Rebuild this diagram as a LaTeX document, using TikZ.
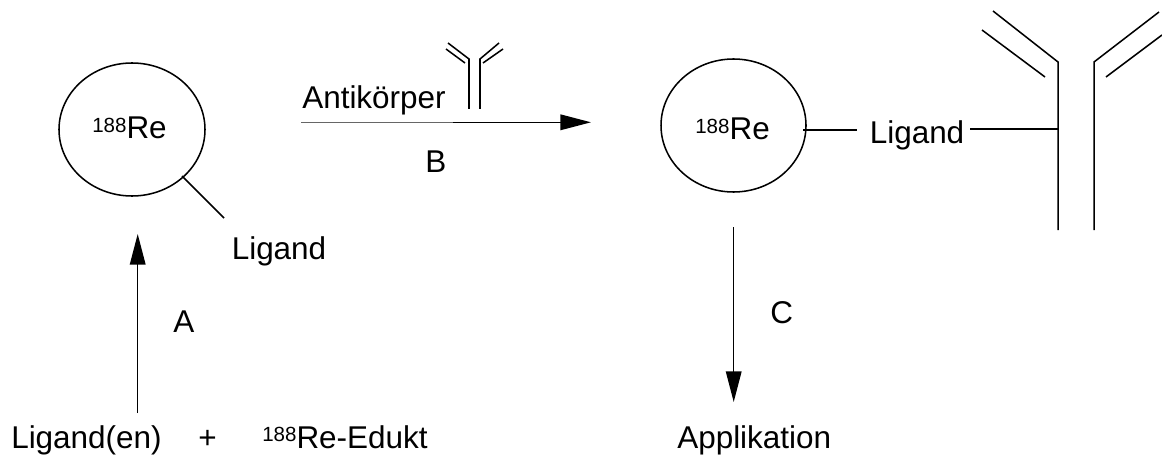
\documentclass[tikz,border=0pt]{standalone}
\usepackage{fontspec}
\setmainfont{Liberation Sans}
\usetikzlibrary{arrows.meta,shapes.geometric}
\newcommand{\isot}{\raisebox{5.25pt}{\fontsize{15.4}{18}\selectfont 188}}
\tikzset{
 lbl/.style={inner sep=0pt,anchor=base west,font=\fontsize{23.6}{27}\selectfont},
 ln/.style={line width=1.15pt,black},
 arr/.style={ln,-{Triangle[length=23pt,width=11.7pt]}},
 thin gray/.style={line width=0.8pt,black!60},
 core/.style={draw,ln,ellipse,inner sep=0pt}
}
\begin{document}
\begin{tikzpicture}[x=0.75pt,y=-0.75pt]
\useasboundingbox (0,0) rectangle (1162,456);
% left complex
\node[core,minimum width=109.5pt,minimum height=99.75pt] (c1) at (132,129.5) {};
\node[lbl] (re1) at (92,139) {\isot Re};
\coordinate (l1a) at (182,176);
\coordinate (l1b) at (224,218);
\draw[ln] (l1a) -- (l1b);
\node[lbl] (lig1) at (231.5,259) {Ligand};
% arrow A
\coordinate (a1) at (137.7,413);
\coordinate (a2) at (137.7,234);
\draw[arr] (a1) -- (a2);
\node[lbl] (A) at (173,332) {A};
% bottom row
\node[lbl] (edu) at (11,448) {Ligand(en)};
\node[lbl] (plus) at (198,448) {+};
\node[lbl] (edu2) at (262,448) {\isot Re-Edukt};
\node[lbl] (app) at (677,448) {Applikation};
% arrow B
\node[lbl] (ak) at (302,109) {Antikörper};
\coordinate (b0) at (301,122.3);
\coordinate (b1) at (453,122.3);
\coordinate (b2) at (591,122.3);
\draw[thin gray] (b0) -- (b1);
\draw[arr] (b1) -- (b2);
\node[lbl] (B) at (425,172) {B};
% small antibody
\draw[ln] (448,43) -- (469,59) -- (469,109);
\draw[ln] (499,43) -- (480,59) -- (480,109);
\draw[ln] (446,49) -- (465,63);
\draw[ln] (503,49) -- (483,63);
% right complex
\node[core,minimum width=108.75pt,minimum height=99.75pt] (c2) at (733.5,125.5) {};
\node[lbl] (re2) at (695,140) {\isot Re};
\coordinate (l2a) at (803,130);
\coordinate (l2b) at (857,130);
\draw[ln] (l2a) -- (l2b);
\node[lbl] (lig2) at (869.5,143) {Ligand};
\coordinate (l3a) at (970,129);
\coordinate (l3b) at (1059,129);
\draw[ln] (l3a) -- (l3b);
% big antibody
\draw[ln] (993,11) -- (1058,62) -- (1058,230);
\draw[ln] (1159,12) -- (1094,62) -- (1094,230);
\draw[ln] (982,30) -- (1045,77);
\draw[ln] (1162,35) -- (1106,77);
% arrow C
\coordinate (c3) at (733.7,227);
\coordinate (c4) at (733.7,402);
\draw[arr] (c3) -- (c4);
\node[lbl] (C) at (770,323) {C};
\end{tikzpicture}
\end{document}
